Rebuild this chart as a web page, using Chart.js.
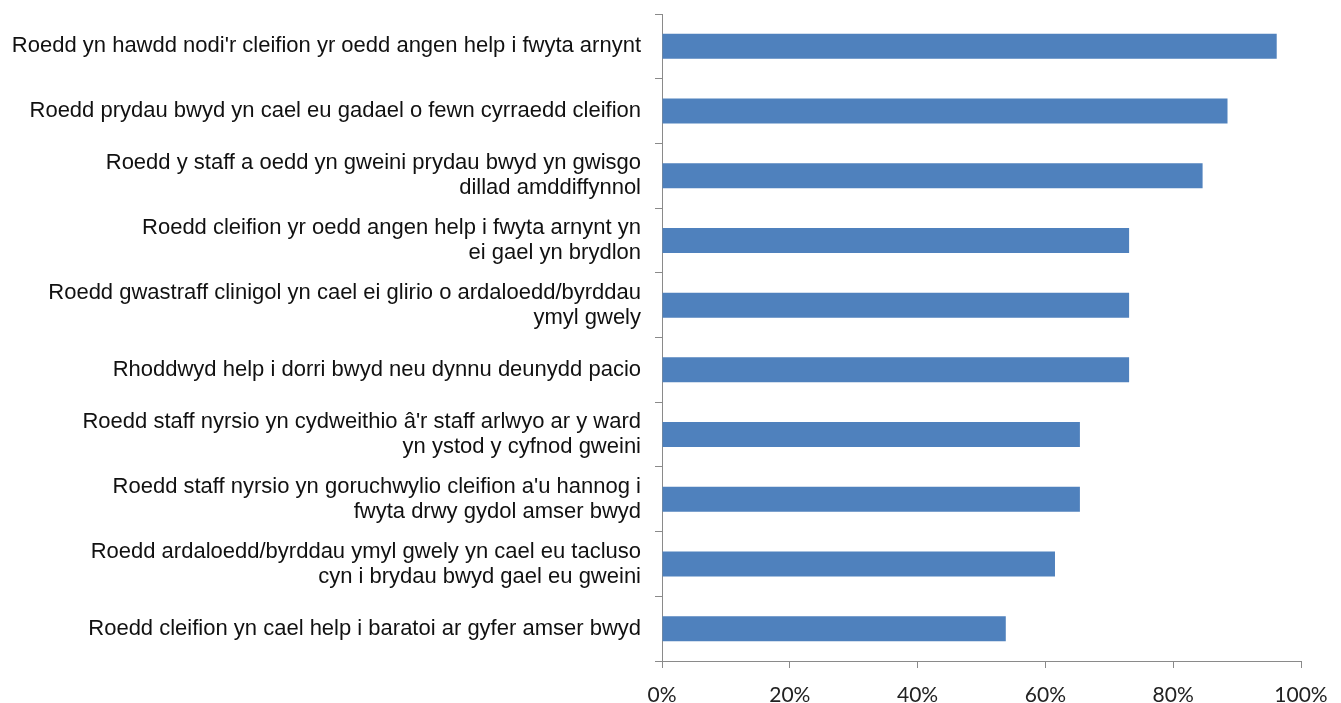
<!DOCTYPE html>
<html>
<head>
<meta charset="utf-8">
<script src="https://cdn.jsdelivr.net/npm/chart.js@4.4.1/dist/chart.umd.min.js"></script>
<style>
  html, body { margin: 0; padding: 0; background: #ffffff; }
  #wrap { width: 1341px; height: 703px; position: relative; }
</style>
</head>
<body>
<div id="wrap"><canvas id="c" width="1341" height="703"></canvas></div>
<script>
// ---- data ----
const categories = [
  "Roedd yn hawdd nodi'r cleifion yr oedd angen help i fwyta arnynt",
  "Roedd prydau bwyd yn cael eu gadael o fewn cyrraedd cleifion",
  ["Roedd y staff a oedd yn gweini prydau bwyd yn gwisgo", "dillad amddiffynnol"],
  ["Roedd cleifion yr oedd angen help i fwyta arnynt yn", "ei gael yn brydlon"],
  ["Roedd gwastraff clinigol yn cael ei glirio o ardaloedd/byrddau", "ymyl gwely"],
  "Rhoddwyd help i dorri bwyd neu dynnu deunydd pacio",
  ["Roedd staff nyrsio yn cydweithio \u00e2'r staff arlwyo ar y ward", "yn ystod y cyfnod gweini"],
  ["Roedd staff nyrsio yn goruchwylio cleifion a'u hannog i", "fwyta drwy gydol amser bwyd"],
  ["Roedd ardaloedd/byrddau ymyl gwely yn cael eu tacluso", "cyn i brydau bwyd gael eu gweini"],
  "Roedd cleifion yn cael help i baratoi ar gyfer amser bwyd"
];
const percentValues = [96.2, 88.5, 84.6, 73.1, 73.1, 73.1, 65.4, 65.4, 61.5, 53.8];
const xTickValues = [0, 20, 40, 60, 80, 100];

// ---- chart ----
const axisGrey = '#8a8a8a';
new Chart(document.getElementById('c'), {
  type: 'bar',
  data: {
    labels: categories,
    datasets: [{
      data: percentValues,
      backgroundColor: '#4F81BD',
      borderWidth: 0,
      barPercentage: 0.386,
      categoryPercentage: 1.0
    }]
  },
  options: {
    indexAxis: 'y',
    responsive: false,
    animation: false,
    devicePixelRatio: 1,
    layout: { padding: { top: 14, right: 40, bottom: 0, left: 0 } },
    plugins: { legend: { display: false }, tooltip: { enabled: false } },
    scales: {
      x: {
        min: xTickValues[0],
        max: xTickValues[xTickValues.length - 1],
        afterBuildTicks: s => { s.ticks = xTickValues.map(v => ({ value: v })); },
        afterFit: s => { s.height = 42; s.paddingLeft = 0; s.paddingRight = 0; },
        border: { display: true, color: axisGrey, width: 1 },
        grid: { display: true, drawOnChartArea: false, drawTicks: true, tickLength: 7, color: axisGrey },
        ticks: {
          padding: 15,
          color: '#222222',
          font: { family: 'Lato', size: 21 },
          callback: v => v + '%',
          maxRotation: 0
        }
      },
      y: {
        afterFit: s => { s.width = 662; s.paddingTop = 0; s.paddingBottom = 0; },
        border: { display: true, color: axisGrey, width: 1 },
        grid: { display: true, drawOnChartArea: false, drawTicks: true, tickLength: 7, color: axisGrey, offset: true },
        ticks: {
          padding: 14,
          color: '#111111',
          font: { family: '"Liberation Sans", Arial, sans-serif', size: 22, lineHeight: 25 / 22 },
          autoSkip: false
        }
      }
    }
  }
});
</script>
</body>
</html>
